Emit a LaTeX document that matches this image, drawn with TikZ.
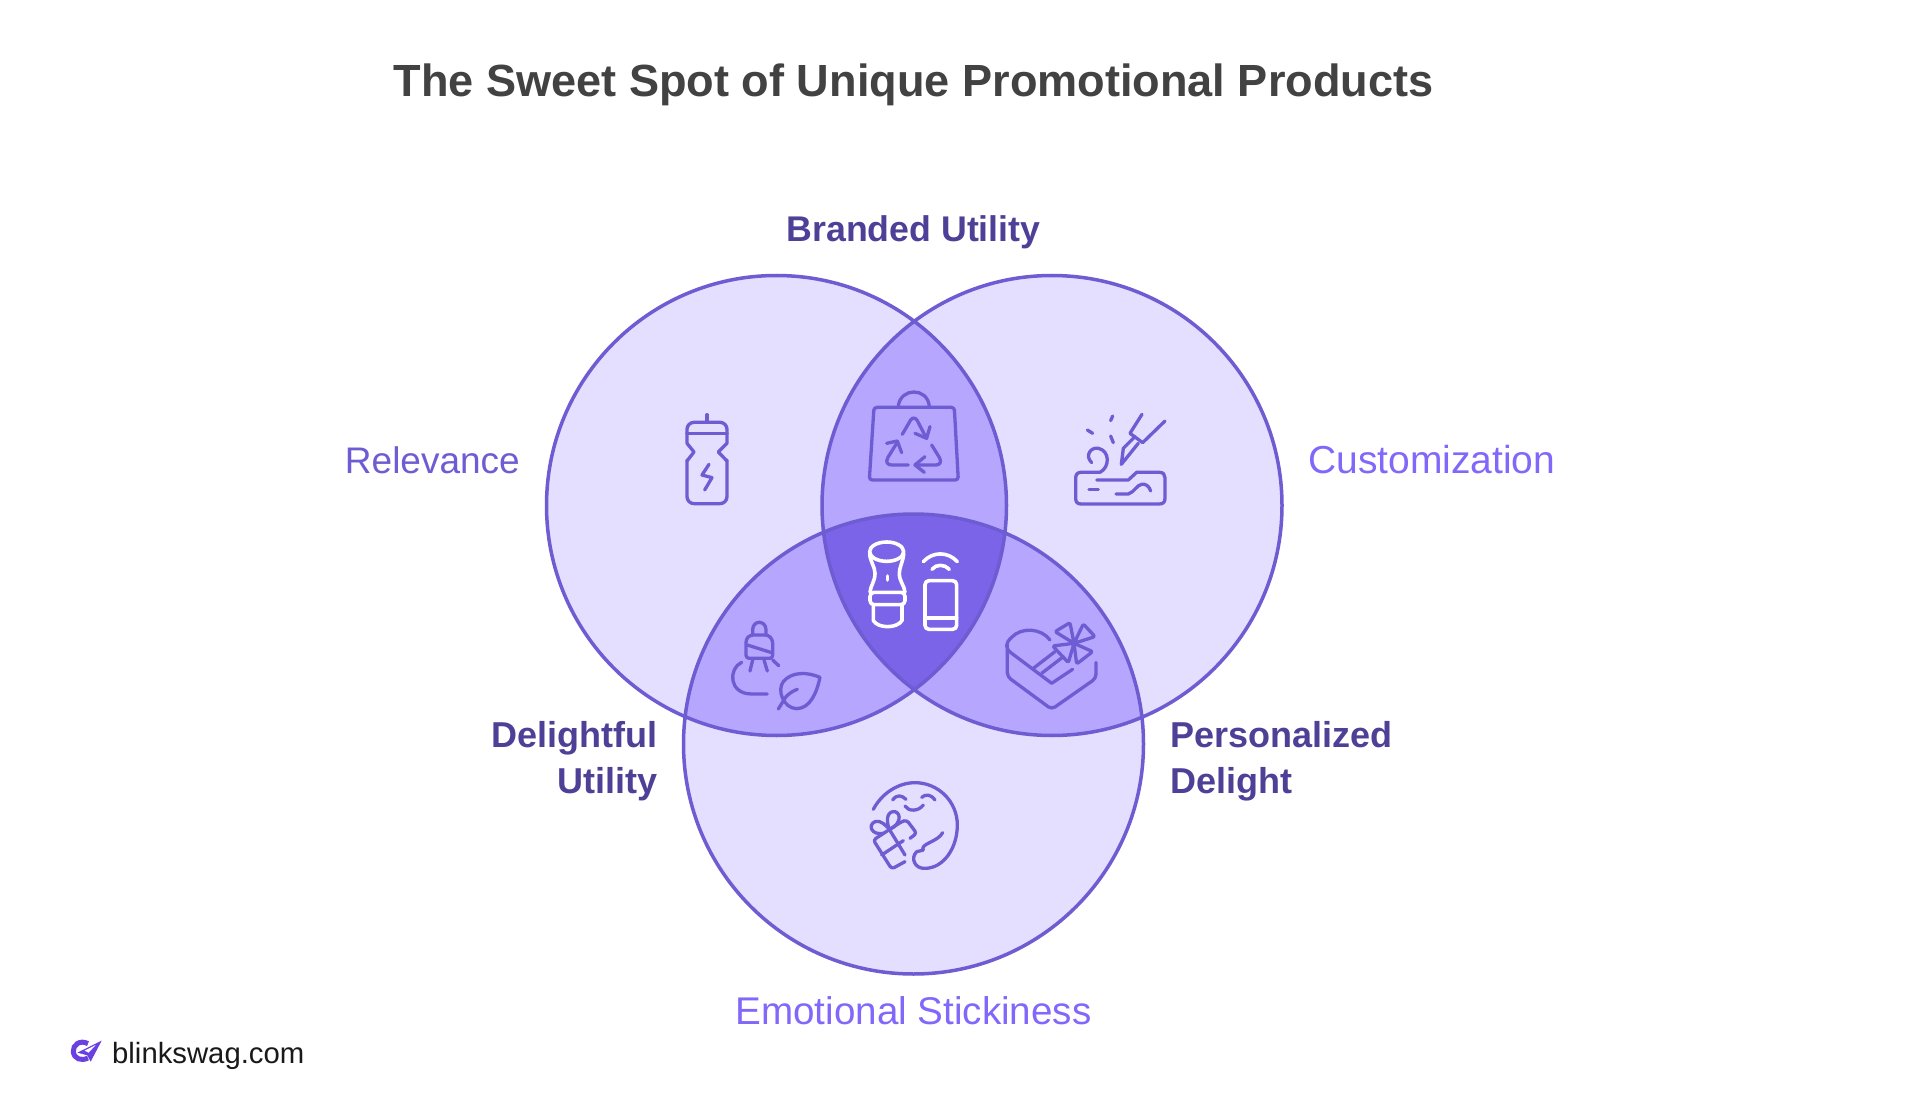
\documentclass[tikz,border=0pt]{standalone}
\usepackage{fontspec}
\setmainfont{Liberation Sans}
\definecolor{lite}{HTML}{E4DFFE}
\definecolor{midc}{HTML}{B7A6FD}
\definecolor{deep}{HTML}{7C64E8}
\definecolor{edge}{HTML}{6E5CD2}
\definecolor{dark}{HTML}{4F4097}
\definecolor{violet}{HTML}{8268FA}
\definecolor{titlec}{HTML}{424242}
\definecolor{logoc}{HTML}{6A40E0}
\tikzset{
  ic/.style={line width=3.3pt,line cap=round,line join=round,draw=edge},
  wh/.style={line width=3.6pt,line cap=round,line join=round,draw=white},
  zoomed/.style={x=0.3333pt,y=-0.3333pt},
  circ/.style={draw=edge,line width=3.5pt},
  ttl/.style={font=\bfseries\fontsize{45.1}{50}\selectfont,text=titlec,inner sep=0pt},
  lbd/.style={font=\bfseries\fontsize{36}{46}\selectfont,text=dark,inner sep=0pt},
  lbl/.style={font=\fontsize{38.6}{46}\selectfont,inner sep=0pt},
}
\begin{document}
\begin{tikzpicture}[x=1pt,y=-1pt]
\useasboundingbox (0,0) rectangle (1920,1115);
\fill[white] (0,0) rectangle (1920,1115);
\coordinate (A) at (776.5,505.5);
\coordinate (B) at (1052,505.5);
\coordinate (C) at (913.5,744);
\def\rr{230pt}
\fill[lite] (A) circle (\rr) (B) circle (\rr) (C) circle (\rr);
\begin{scope}\clip (A) circle (\rr); \fill[midc] (B) circle (\rr); \fill[midc] (C) circle (\rr);\end{scope}
\begin{scope}\clip (B) circle (\rr); \fill[midc] (C) circle (\rr);\end{scope}
\begin{scope}\clip (A) circle (\rr); \clip (B) circle (\rr); \fill[deep] (C) circle (\rr);\end{scope}
\draw[circ] (A) circle (\rr) (B) circle (\rr) (C) circle (\rr);
% bottle + bag
\begin{scope}[shift={(640,380)},zoomed]
\draw[ic] (201,104)--(201,127);
\draw[ic,rounded corners=7pt] (141,160)--(141,127)--(261,127)--(261,160);
\draw[ic] (141,160)--(261,160);
\draw[ic] (141,160)--(141,190)--(162,216)--(141,243);
\draw[ic] (261,160)--(261,190)--(235,216)--(261,243);
\draw[ic,rounded corners=7pt] (141,240)--(141,371)--(261,371)--(261,240);
\draw[ic] (207,253)--(186,285)--(216,293)--(194,330);
\draw[ic] (775,78) .. controls (782,22) and (862,22) .. (868,78);
\draw[ic,rounded corners=3pt] (702,82)--(943,82)--(955,300)--(688,300)--cycle;
\draw[ic] (787,163)--(812,120) .. controls (818,112) and (826,112) .. (832,122)--(858,172);
\draw[ic] (825,160)--(860,175)--(870,140);
\draw[ic] (875,195)--(898,232) .. controls (906,246) and (900,255) .. (888,255)--(828,255);
\draw[ic] (853,277)--(825,255)--(855,230);
\draw[ic] (805,255)--(755,255) .. controls (742,255) and (736,246) .. (744,232)--(770,190);
\draw[ic] (740,190)--(772,183)--(785,218);
\end{scope}
% centre
\begin{scope}[shift={(850,530)},zoomed]
\draw[wh] (110,65) ellipse [x radius=51, y radius=29];
\draw[wh] (59,70) .. controls (60,95) and (75,110) .. (75,130) .. controls (75,155) and (62,165) .. (60,187);
\draw[wh] (161,70) .. controls (160,95) and (148,110) .. (148,130) .. controls (148,155) and (163,165) .. (165,187);
\draw[wh,rounded corners=4pt] (60,187)--(165,187)--(165,224)--(60,224)--cycle;
\draw[wh] (70,226)--(70,272) .. controls (85,296) and (140,296) .. (156,272)--(156,226);
\draw[wh] (112,138)--(112,150);
\draw[wh,rounded corners=4pt] (225,152) rectangle (320,298);
\draw[wh] (225,264)--(320,264);
\draw[wh] (220,95) .. controls (248,64) and (294,64) .. (322,95);
\draw[wh] (246,118) .. controls (258,102) and (284,102) .. (298,118);
\end{scope}
% lamp
\begin{scope}[shift={(660,600)},zoomed]
\draw[ic] (278,105)--(278,88) .. controls (280,60) and (316,60) .. (318,88)--(318,105);
\draw[ic,rounded corners=3pt] (258,175)--(258,118)--(270,105)--(325,105)--(338,120)--(338,175)--cycle;
\draw[ic] (262,135)--(335,158);
\draw[ic] (278,180)--(270,213);
\draw[ic] (312,180)--(322,213);
\draw[ic] (338,180)--(356,197);
\draw[ic] (245,187) .. controls (205,205) and (205,282) .. (275,282)--(322,282);
\draw[ic] (355,327)--(378,290) .. controls (388,280) and (400,272) .. (412,268);
\draw[ic] (480,232) .. controls (440,215) and (395,215) .. (370,245) .. controls (350,270) and (370,325) .. (410,326) .. controls (450,325) and (470,280) .. (480,232)--cycle;
\end{scope}
% face and gift
\begin{scope}[shift={(860,770)},zoomed]
\draw[ic] (40,118) .. controls (65,70) and (115,38) .. (165,38) .. controls (235,38) and (292,95) .. (292,165) .. controls (292,235) and (250,295) .. (195,295) .. controls (165,297) and (150,265) .. (170,245) .. controls (178,240) and (185,245) .. (190,240) .. controls (178,222) and (235,215) .. (248,188);
\draw[ic] (98,90) .. controls (110,73) and (125,75) .. (138,88);
\draw[ic] (185,82) .. controls (197,72) and (212,72) .. (225,90);
\draw[ic] (135,108) .. controls (145,125) and (175,125) .. (190,105);
\draw[ic] (70,190) .. controls (35,197) and (22,165) .. (45,155) .. controls (60,148) and (80,168) .. (88,178);
\draw[ic] (88,178) .. controls (75,145) and (85,122) .. (105,125) .. controls (125,130) and (122,165) .. (88,178);
\draw[ic,rounded corners=3pt] (135,275)--(95,297)--(40,210)--(125,155)--(140,150)--(170,190)--(150,205);
\draw[ic] (88,178)--(135,255);
\draw[ic] (65,255)--(130,212);
\end{scope}
% knife block + heart
\begin{scope}[shift={(980,380)},zoomed]
\draw[ic] (335,248) .. controls (312,225) and (335,200) .. (355,205) .. controls (390,212) and (390,262) .. (360,277)--(303,277) .. controls (292,277) and (287,284) .. (287,295)--(287,355) .. controls (287,366) and (292,372) .. (303,372)--(538,372) .. controls (550,372) and (555,366) .. (555,355)--(555,293) .. controls (555,284) and (550,277) .. (538,277)--(470,277)--(445,300)--(350,300);
\draw[ic] (327,328)--(355,328);
\draw[ic] (408,342)--(445,342) .. controls (465,335) and (470,315) .. (485,313) .. controls (498,310) and (508,320) .. (512,333);
\draw[ic] (322,150)--(338,160);
\draw[ic] (392,122)--(398,108);
\draw[ic] (392,168)--(400,188);
\draw[ic] (486,103)--(450,160)--(488,188)--(555,123);
\draw[ic] (465,170)--(430,205)--(424,253)--(475,190);
\draw[ic] (210,780) .. controls (185,745) and (125,740) .. (95,772) .. controls (75,790) and (75,805) .. (95,820)--(215,910)--(278,868);
\draw[ic,rounded corners=4pt] (82,795)--(82,890)--(215,988)--(348,895)--(348,848);
\draw[ic] (160,865)--(225,815);
\draw[ic] (185,880)--(250,830);
\draw[ic,rounded corners=2pt] (282,790)--(225,755)--(270,728)--cycle;
\draw[ic,rounded corners=2pt] (282,790)--(310,732)--(345,770)--cycle;
\draw[ic,rounded corners=2pt] (282,790)--(338,815)--(290,852)--cycle;
\draw[ic,rounded corners=2pt] (282,790)--(218,798)--(265,848)--cycle;
\end{scope}
% logo
\begin{scope}[shift={(0,1000)},zoomed]
\draw[logoc,line width=5pt] (264,131) .. controls (240,118) and (218,135) .. (220,155) .. controls (222,177) and (245,184) .. (264,174);
\fill[logoc] (305,122)--(272,185)--(262,166)--(232,158)--cycle;
\fill[white] (287,135)--(254,152)--(266,158)--cycle;
\end{scope}
\node[ttl] (title) at (913.5,85) {The Sweet Spot of Unique Promotional Products};
\node[lbd,font=\bfseries\fontsize{35.7}{46}\selectfont] (branded) at (913.5,232.5) {Branded Utility};
\node[lbl,text=edge,anchor=east] (relev) at (520,460) {\fontsize{37}{46}\selectfont Relevance};
\node[lbl,text=violet,anchor=west] (custom) at (1308,460) {\fontsize{39}{46}\selectfont Customization};
\node[lbl,text=violet] (emo) at (913.5,1011) {Emotional Stickiness};
\node[lbd,align=right,anchor=east] (deli) at (658,761) {Delightful\\Utility};
\node[lbd,align=left,anchor=west] (pers) at (1170,761) {Personalized\\Delight};
\node[font=\fontsize{29.3}{32}\selectfont,text=black!90,anchor=west,inner sep=0pt] (logo) at (112,1056) {blinkswag.com};
\end{tikzpicture}
\end{document}
